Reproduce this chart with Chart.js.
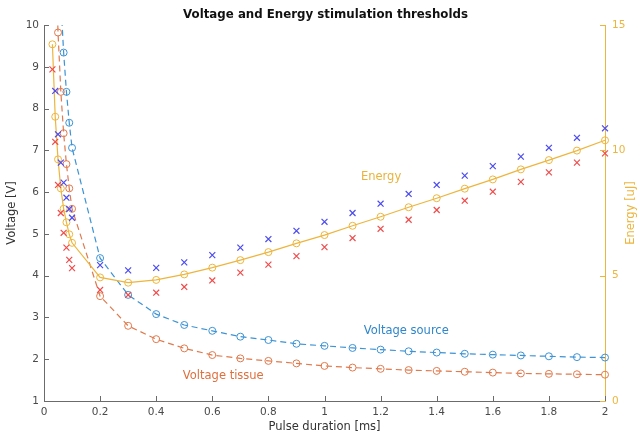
<!DOCTYPE html>
<html>
<head>
<meta charset="utf-8">
<script src="https://cdn.jsdelivr.net/npm/chart.js@4.4.1/dist/chart.umd.min.js"></script>
<style>
  html, body { margin: 0; padding: 0; background: #fff; }
</style>
</head>
<body>
<canvas id="chart" width="640" height="435"></canvas>
<script>
// pulse durations [ms]
const pulseDuration = [0.03, 0.04, 0.05, 0.06, 0.07, 0.08, 0.09, 0.1,
  0.2, 0.3, 0.4, 0.5, 0.6, 0.7, 0.8, 0.9, 1.0, 1.1, 1.2, 1.3, 1.4, 1.5, 1.6, 1.7, 1.8, 1.9, 2.0];

// left axis [V]
const voltageSource = [null, null, null, 10.6, 9.34, 8.40, 7.66, 7.06,
  4.42, 3.54, 3.08, 2.82, 2.68, 2.54, 2.46, 2.37, 2.32, 2.27, 2.23, 2.19, 2.16, 2.13, 2.11, 2.09, 2.07, 2.05, 2.04];
const voltageTissue = [null, 11.9, 9.82, 8.40, 7.41, 6.67, 6.09, 5.60,
  3.51, 2.80, 2.48, 2.26, 2.10, 2.02, 1.96, 1.90, 1.84, 1.80, 1.77, 1.74, 1.72, 1.70, 1.68, 1.66, 1.65, 1.64, 1.63];

// right axis [uJ]
const energy = [14.23, 11.34, 9.64, 8.48, 7.67, 7.13, 6.65, 6.31,
  4.93, 4.72, 4.83, 5.05, 5.32, 5.62, 5.94, 6.29, 6.62, 6.99, 7.35, 7.73, 8.09, 8.47, 8.84, 9.24, 9.61, 9.99, 10.40];
const energySource = [null, 12.37, 10.64, 9.51, 8.71, 8.11, 7.66, 7.31,
  5.42, 5.21, 5.31, 5.53, 5.82, 6.12, 6.46, 6.79, 7.15, 7.50, 7.87, 8.26, 8.62, 8.99, 9.37, 9.75, 10.10, 10.50, 10.88];
const energyTissue = [13.23, 10.34, 8.62, 7.50, 6.71, 6.12, 5.63, 5.30,
  4.43, 4.23, 4.32, 4.55, 4.81, 5.12, 5.44, 5.78, 6.14, 6.50, 6.87, 7.23, 7.62, 7.99, 8.35, 8.74, 9.12, 9.51, 9.88];

// text labels placed in data coordinates
const curveLabels = [
  { text: 'Energy', x: 1.13, y: 8.93, axis: 'yE', color: '#ebb23a' },
  { text: 'Voltage source', x: 1.14, y: 2.68, axis: 'yV', color: '#2e86cc' },
  { text: 'Voltage tissue', x: 0.495, y: 1.60, axis: 'yV', color: '#de6f3e' }
];

const BLUE = '#3d93d4';
const ORANGE = '#e07a4e';
const YELLOW = '#edb53e';
const AXIS_GRAY = '#6b6b6b';
const FONT = "'DejaVu Sans', sans-serif";

function points(values) {
  return pulseDuration.map((x, i) => ({ x: x, y: values[i] })).filter(p => p.y !== null);
}

const clipArea = { left: 8, right: 8, top: 0, bottom: 8 };

// title, axis titles, inward ticks, curve labels
const decorations = {
  id: 'decorations',
  afterDraw(chart) {
    const { ctx, chartArea: a, scales } = chart;
    ctx.save();
    ctx.lineWidth = 1;

    const tick = (x1, y1, x2, y2, color) => {
      ctx.strokeStyle = color;
      ctx.beginPath();
      ctx.moveTo(x1, y1);
      ctx.lineTo(x2, y2);
      ctx.stroke();
    };
    scales.x.ticks.forEach(t => {
      const px = Math.round(scales.x.getPixelForValue(t.value)) + 0.5;
      tick(px, a.bottom, px, a.bottom - 5, AXIS_GRAY);
    });
    scales.yV.ticks.forEach(t => {
      const py = Math.round(scales.yV.getPixelForValue(t.value)) + 0.5;
      tick(a.left, py, a.left + 5, py, AXIS_GRAY);
    });
    scales.yE.ticks.forEach(t => {
      const py = Math.round(scales.yE.getPixelForValue(t.value)) + 0.5;
      tick(a.right, py, a.right - 5, py, YELLOW);
    });

    ctx.textBaseline = 'middle';
    ctx.textAlign = 'center';
    ctx.fillStyle = '#111';
    ctx.font = 'bold 11.8px ' + FONT;
    ctx.fillText('Voltage and Energy stimulation thresholds', (a.left + a.right) / 2 + 1, 15);

    ctx.font = '11.5px ' + FONT;
    ctx.fillStyle = '#333';
    ctx.fillText('Pulse duration [ms]', (a.left + a.right) / 2, 427);

    ctx.save();
    ctx.translate(12, (a.top + a.bottom) / 2);
    ctx.rotate(-Math.PI / 2);
    ctx.fillText('Voltage [V]', 0, 0);
    ctx.restore();

    ctx.save();
    ctx.fillStyle = YELLOW;
    ctx.translate(631, (a.top + a.bottom) / 2);
    ctx.rotate(-Math.PI / 2);
    ctx.fillText('Energy [uJ]', 0, 0);
    ctx.restore();

    ctx.textAlign = 'left';
    curveLabels.forEach(l => {
      ctx.fillStyle = l.color;
      ctx.fillText(l.text, scales.x.getPixelForValue(l.x), scales[l.axis].getPixelForValue(l.y));
    });
    ctx.restore();
  }
};

new Chart(document.getElementById('chart'), {
  type: 'scatter',
  data: {
    datasets: [
      {
        label: 'Voltage source',
        data: points(voltageSource),
        yAxisID: 'yV',
        showLine: true,
        borderColor: BLUE,
        borderWidth: 1.2,
        borderDash: [6, 4],
        pointStyle: 'circle',
        pointRadius: 3.5,
        pointBorderWidth: 1,
        pointBorderColor: BLUE,
        pointBackgroundColor: 'rgba(0,0,0,0)',
        clip: clipArea,
        order: 5
      },
      {
        label: 'Voltage tissue',
        data: points(voltageTissue),
        yAxisID: 'yV',
        showLine: true,
        borderColor: ORANGE,
        borderWidth: 1.2,
        borderDash: [6, 4],
        pointStyle: 'circle',
        pointRadius: 3.5,
        pointBorderWidth: 1,
        pointBorderColor: ORANGE,
        pointBackgroundColor: 'rgba(0,0,0,0)',
        clip: clipArea,
        order: 4
      },
      {
        label: 'Energy',
        data: points(energy),
        yAxisID: 'yE',
        showLine: true,
        borderColor: YELLOW,
        borderWidth: 1.2,
        pointStyle: 'circle',
        pointRadius: 3.5,
        pointBorderWidth: 1,
        pointBorderColor: YELLOW,
        pointBackgroundColor: 'rgba(0,0,0,0)',
        clip: clipArea,
        order: 3
      },
      {
        label: 'Energy source',
        data: points(energySource),
        yAxisID: 'yE',
        showLine: false,
        pointStyle: 'crossRot',
        pointRadius: 4.2,
        pointBorderWidth: 1.2,
        pointBorderColor: '#4b4bf0',
        clip: clipArea,
        order: 2
      },
      {
        label: 'Energy tissue',
        data: points(energyTissue),
        yAxisID: 'yE',
        showLine: false,
        pointStyle: 'crossRot',
        pointRadius: 4.2,
        pointBorderWidth: 1.2,
        pointBorderColor: '#f04b4b',
        clip: clipArea,
        order: 1
      }
    ]
  },
  options: {
    responsive: false,
    animation: false,
    layout: { padding: { top: 25, left: 0, right: 0, bottom: 0 } },
    plugins: {
      legend: { display: false },
      tooltip: { enabled: false }
    },
    scales: {
      x: {
        type: 'linear',
        min: 0,
        max: 2,
        afterFit: s => { s.height = 34; },
        grid: { display: true, drawOnChartArea: false, drawTicks: false },
        border: { display: true, color: AXIS_GRAY, width: 1 },
        ticks: {
          stepSize: 0.2,
          autoSkip: false,
          maxRotation: 0,
          padding: 5,
          color: '#4a4a4a',
          font: { family: FONT, size: 10.5 },
          callback: v => String(+v.toFixed(1))
        }
      },
      yV: {
        type: 'linear',
        position: 'left',
        min: 1,
        max: 10,
        afterFit: s => { s.width = 44; },
        grid: { display: true, drawOnChartArea: false, drawTicks: false },
        border: { display: true, color: AXIS_GRAY, width: 1 },
        ticks: {
          stepSize: 1,
          padding: 5,
          color: '#4a4a4a',
          font: { family: FONT, size: 10.5 }
        }
      },
      yE: {
        type: 'linear',
        position: 'right',
        min: 0,
        max: 15,
        afterFit: s => { s.width = 35; },
        grid: { display: true, drawOnChartArea: false, drawTicks: false },
        border: { display: true, color: YELLOW, width: 1 },
        ticks: {
          stepSize: 5,
          padding: 7,
          color: YELLOW,
          font: { family: FONT, size: 10.5 }
        }
      }
    }
  },
  plugins: [decorations]
});
</script>
</body>
</html>
